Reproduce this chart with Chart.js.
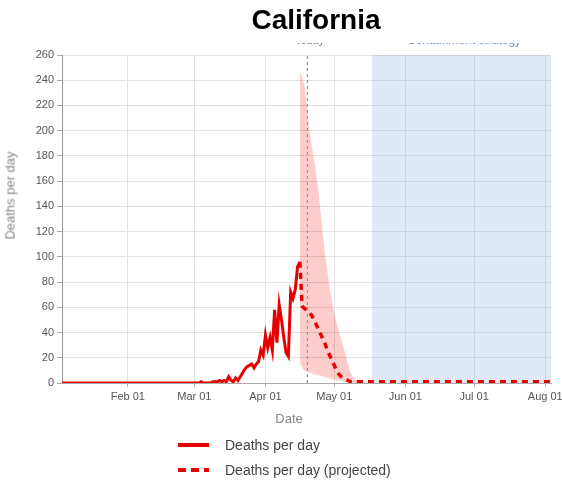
<!DOCTYPE html>
<html>
<head>
<meta charset="utf-8">
<title>California</title>
<script src="https://cdn.jsdelivr.net/npm/chart.js@4.4.1/dist/chart.umd.min.js"></script>
<style>
  html, body { margin: 0; padding: 0; background: #fff; }
  #wrap { position: relative; width: 562px; height: 482px; overflow: hidden; font-family: "Liberation Sans", Arial, sans-serif; }
  #chart { position: absolute; left: 0; top: 0; }
  .txt { position: absolute; white-space: nowrap; pointer-events: none; }
  #title { left: 0; width: 632px; top: 6px; text-align: center; font-size: 28px; line-height: 28px; font-weight: bold; color: #000; }
  #xTitle { left: 189px; width: 200px; top: 412px; text-align: center; font-size: 13px; line-height: 13px; color: #888; }
  #yTitle { left: -90.5px; width: 200px; top: 188.5px; text-align: center; font-size: 13px; line-height: 13px; color: #888; transform: rotate(-90deg); }
  #topClip { position: absolute; left: 0; top: 43px; width: 562px; height: 12px; overflow: hidden; }
  #topClip span { position: absolute; white-space: nowrap; }
  .legend-row { position: absolute; left: 178px; height: 16px; font-size: 14px; line-height: 16px; color: #444; }
  .swatch { position: absolute; left: 0; top: 6px; width: 31px; height: 4px; }
  .swatch.solid { background: #e60000; }
  .swatch.dashed { background: repeating-linear-gradient(to right, #e60000 0 8.5px, transparent 8.5px 13px); }
  .legend-row .lbl { position: absolute; left: 47px; top: 0; }
</style>
</head>
<body>
<div id="wrap">
  <canvas id="chart" width="562" height="482"></canvas>
  <div id="topClip">
    <span style="left:295px; top:-9px; font-size:11px; color:#777;">Today</span>
    <span style="left:407px; top:-10px; font-size:12px; color:#6f98c4;">Containment strategy</span>
  </div>
  <div class="txt" id="title">California</div>
  <div class="txt" id="xTitle">Date</div>
  <div class="txt" id="yTitle">Deaths per day</div>
  <div class="txt legend-row" style="top:437px;"><span class="swatch solid"></span><span class="lbl">Deaths per day</span></div>
  <div class="txt legend-row" style="top:462px;"><span class="swatch dashed"></span><span class="lbl">Deaths per day (projected)</span></div>
</div>
<script>
    // --- Dados (dia do ano 2020, 0 = 1 jan) ---
    const X_MIN = 2.3;
    const X_MAX = 215.5;
    const TODAY_DAY = 109.3;
    const CONTAINMENT_START = 137.5;
    const Y_TOP = 260;

    const monthDays = [31, 60, 91, 121, 152, 182, 213];
    const monthLabels = ['Feb 01', 'Mar 01', 'Apr 01', 'May 01', 'Jun 01', 'Jul 01', 'Aug 01'];

    // Mortes observadas
    const obsDays = [2, 61, 62, 63, 64, 65, 66, 67, 68, 69, 70, 71, 72, 73, 74, 75, 76, 77, 78, 79, 80,
        81, 82, 83, 84, 85, 86, 87, 88, 89, 90, 91, 92, 93, 94, 95, 96, 97, 98, 99, 100,
        101, 102, 103, 104, 105, 106];
    const obsDeaths = [0, 0, 0, 1, 0, 0, 0, 0, 1, 1, 1, 2, 1, 2, 1, 5, 2, 1, 4, 2, 5,
        8, 11, 13, 14, 15, 12, 15, 17, 26, 22, 38, 28, 36, 26, 58, 32, 62, 50, 36, 24,
        21, 72, 67, 74, 92, 96];

    // Projeção
    const projDays = [106, 107, 108, 109, 110, 111, 112, 113, 114, 115, 116, 117, 118, 119, 120,
        121, 122, 123, 124, 125, 126, 127, 128, 216];
    const projDeaths = [96, 61, 59, 58, 56, 54, 51, 47, 43, 39, 35, 31, 26, 22, 18,
        14, 10, 7, 5, 4, 3, 2, 1, 1];

    // Intervalo de incerteza
    const bandDays = [106, 107, 108, 109, 110, 111, 112, 113, 114, 115, 116, 117, 118, 119, 120,
        121, 122, 123, 124, 125, 126, 127, 128, 129, 130, 131, 132, 133];
    const bandUpper = [247, 242, 236, 220, 203, 190, 179, 167, 154, 136, 118, 101, 88, 76, 64,
        55, 48, 41, 35, 29, 22, 15, 9, 5, 3, 2, 1, 0];
    const bandLower = [16, 12, 10, 9, 8, 8, 7, 7, 6, 6, 5, 5, 4, 4, 3,
        3, 2, 2, 2, 1, 1, 1, 1, 0, 0, 0, 0, 0];

    const RED = '#e60000';
    Chart.defaults.font.family = '"Liberation Sans", Arial, sans-serif';

    function toPoints(xs, ys) {
        return xs.map((x, i) => ({ x: x, y: ys[i] }));
    }

    const ctx = document.getElementById('chart').getContext('2d');
    const chart = new Chart(ctx, {
        type: 'line',
        data: {
            datasets: [{
                label: 'Deaths per day',
                data: toPoints(obsDays, obsDeaths),
                borderColor: RED,
                borderWidth: 3,
                order: 1
            }, {
                label: 'Deaths per day (projected)',
                data: toPoints(projDays, projDeaths),
                borderColor: RED,
                borderWidth: 3.5,
                borderDash: [6, 5],
                order: 2
            }, {
                label: 'Today',
                data: [{ x: TODAY_DAY, y: 0 }, { x: TODAY_DAY, y: Y_TOP }],
                borderColor: '#999',
                borderWidth: 1.2,
                borderDash: [3, 3],
                order: 3
            }, {
                label: 'Upper',
                data: toPoints(bandDays, bandUpper),
                borderWidth: 0,
                borderColor: 'rgba(0,0,0,0)',
                backgroundColor: 'rgba(255, 0, 0, 0.2)',
                fill: '+1',
                order: 4
            }, {
                label: 'Lower',
                data: toPoints(bandDays, bandLower),
                borderWidth: 0,
                borderColor: 'rgba(0,0,0,0)',
                fill: false,
                order: 5
            }, {
                label: 'Containment strategy',
                data: [{ x: CONTAINMENT_START, y: Y_TOP }, { x: X_MAX, y: Y_TOP }],
                borderWidth: 0,
                borderColor: 'rgba(0,0,0,0)',
                backgroundColor: 'rgba(140, 180, 215, 0.28)',
                fill: 'origin',
                order: 6
            }]
        },
        options: {
            responsive: false,
            animation: false,
            layout: { padding: { top: 55, right: 11, bottom: 0, left: 0 } },
            elements: { point: { radius: 0 }, line: { tension: 0 } },
            plugins: {
                legend: { display: false },
                tooltip: { enabled: false },
                title: { display: false }
            },
            scales: {
                x: {
                    type: 'linear',
                    min: X_MIN,
                    max: X_MAX,
                    afterFit: (s) => { s.height = 99; s.paddingLeft = 0; s.paddingRight = 0; },
                    afterBuildTicks: (s) => { s.ticks = monthDays.map(v => ({ value: v })); },
                    ticks: {
                        callback: (v, i) => monthLabels[i],
                        color: '#555',
                        font: { size: 11 },
                        padding: 3,
                        maxRotation: 0,
                        autoSkip: false
                    },
                    grid: { color: '#e2e2e2', tickColor: '#aaa', tickLength: 4 },
                    border: { color: '#aaa' }
                },
                y: {
                    min: 0,
                    max: Y_TOP,
                    afterFit: (s) => { s.width = 62; },
                    ticks: { stepSize: 20, color: '#555', font: { size: 11 }, padding: 3 },
                    grid: { color: '#e2e2e2', tickColor: '#aaa', tickLength: 5 },
                    border: { color: '#999' }
                }
            }
        }
    });
</script>
</body>
</html>
